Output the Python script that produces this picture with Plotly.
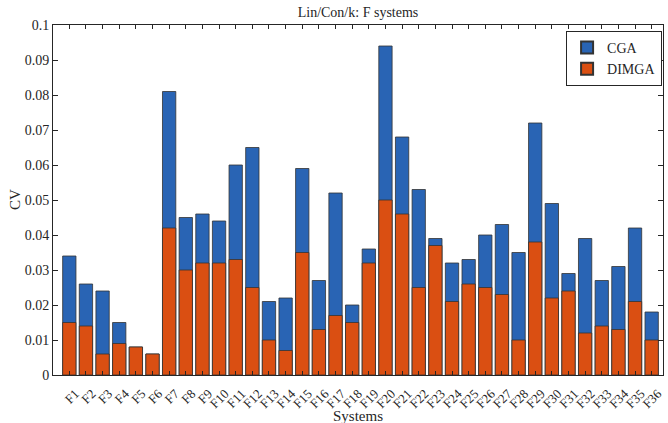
import plotly.graph_objects as go

systems = [f"F{i}" for i in range(1, 37)]
cga = [0.034, 0.026, 0.024, 0.015, 0.008, 0.006, 0.081, 0.045, 0.046, 0.044,
       0.060, 0.065, 0.021, 0.022, 0.059, 0.027, 0.052, 0.020, 0.036, 0.094,
       0.068, 0.053, 0.039, 0.032, 0.033, 0.040, 0.043, 0.035, 0.072, 0.049,
       0.029, 0.039, 0.027, 0.031, 0.042, 0.018]
dimga = [0.015, 0.014, 0.006, 0.009, 0.008, 0.006, 0.042, 0.030, 0.032, 0.032,
         0.033, 0.025, 0.010, 0.007, 0.035, 0.013, 0.017, 0.015, 0.032, 0.050,
         0.046, 0.025, 0.037, 0.021, 0.026, 0.025, 0.023, 0.010, 0.038, 0.022,
         0.024, 0.012, 0.014, 0.013, 0.021, 0.010]
y_ticks = [0, 0.01, 0.02, 0.03, 0.04, 0.05, 0.06, 0.07, 0.08, 0.09, 0.1]
y_tick_text = ["0", "0.01", "0.02", "0.03", "0.04", "0.05", "0.06", "0.07", "0.08", "0.09", "0.1"]

FONT = "Liberation Serif"
TXT = "#262626"
EDGE = "#333333"

fig = go.Figure()
fig.add_trace(go.Bar(x=systems, y=cga, name="CGA", width=0.8,
                     marker=dict(color="#2964B4", line=dict(color=EDGE, width=0.8))))
fig.add_trace(go.Bar(x=systems, y=dimga, name="DIMGA", width=0.8,
                     marker=dict(color="#DA4F12", line=dict(color=EDGE, width=0.8))))

fig.update_layout(
    width=668, height=423,
    margin=dict(l=53, r=5, t=25, b=48, autoexpand=False),
    barmode="overlay",
    plot_bgcolor="white", paper_bgcolor="white",
    font=dict(family=FONT, size=14, color=TXT),
    title=dict(text="Lin/Con/k: F systems", x=(53 + 663) / 2 / 668, xanchor="center",
               y=1 - 12 / 423, yanchor="middle", yref="container",
               font=dict(family=FONT, size=14, color=TXT)),
    legend=dict(x=0.9985, xanchor="right", y=0.983, yanchor="top",
                bgcolor="white", bordercolor=TXT, borderwidth=1,
                font=dict(family=FONT, size=14, color=TXT),
                tracegroupgap=0, itemsizing="constant", itemwidth=30),
    showlegend=True,
)
fig.update_xaxes(
    type="category", range=[-0.98, 35.68],
    tickmode="array", tickvals=systems, ticktext=systems,
    showline=True, linecolor=TXT, linewidth=1, mirror="ticks",
    ticks="inside", ticklen=4, tickcolor=TXT, tickwidth=1,
    tickangle=-45, showgrid=False, zeroline=False,
    ticklabelstandoff=5, ticklabelshift=6,
    tickfont=dict(family=FONT, size=13, color=TXT),
)
fig.update_yaxes(
    range=[0, 0.1], tickvals=y_ticks, ticktext=y_tick_text,
    showline=True, linecolor=TXT, linewidth=1, mirror="ticks",
    ticks="inside", ticklen=5, tickcolor=TXT, tickwidth=1,
    showgrid=False, zeroline=False,
    tickfont=dict(family=FONT, size=14, color=TXT),
)
fig.add_annotation(text="Systems", xref="paper", yref="paper", x=0.5, y=-(416 - 375) / 350,
                   yanchor="middle", showarrow=False, font=dict(family=FONT, size=15, color=TXT))
fig.add_annotation(text="CV", xref="paper", yref="paper", x=-(53 - 15) / 610, y=0.5,
                   xanchor="center", textangle=-90, showarrow=False,
                   font=dict(family=FONT, size=15, color=TXT))

fig.write_html("out.html", config={"displayModeBar": False},
               post_script="document.body.style.margin='0px';")
